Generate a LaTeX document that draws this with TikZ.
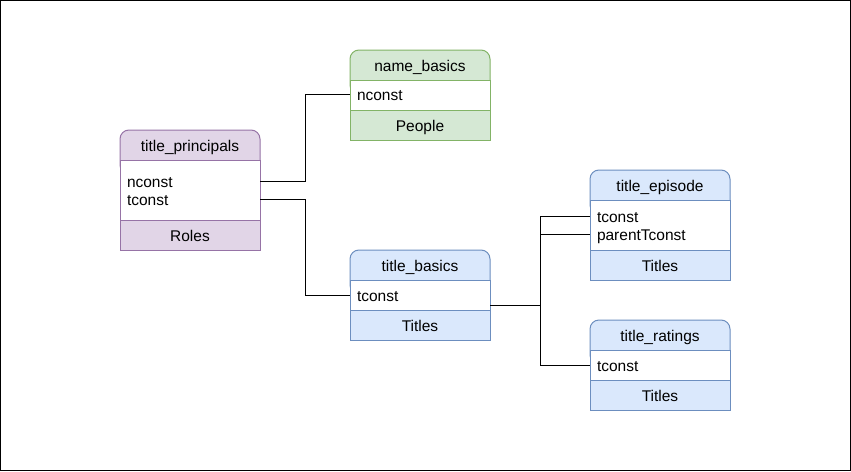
\documentclass[tikz,border=0pt]{standalone}
\usepackage{fontspec}
\setmainfont{Liberation Sans}
\usetikzlibrary{positioning,backgrounds}

\definecolor{purpleFill}{HTML}{E1D5E7}
\definecolor{purpleLine}{HTML}{9673A6}
\definecolor{greenFill}{HTML}{D5E8D4}
\definecolor{greenLine}{HTML}{82B366}
\definecolor{blueFill}{HTML}{DAE8FC}
\definecolor{blueLine}{HTML}{6C8EBF}

\begin{document}
\begin{tikzpicture}[x=1pt,y=-1pt,node distance=0pt,
  every node/.style={font=\fontsize{15.5}{18}\selectfont, inner sep=0pt, outer sep=0pt},
  head/.style={minimum width=140pt, minimum height=30pt, text height=13.5pt, text depth=0pt},
  body/.style={draw=#1Line, fill=white, line width=1pt, minimum width=140pt},
  foot/.style={draw=#1Line, fill=#1Fill, line width=1pt, minimum width=140pt, minimum height=30pt,
    text height=13.5pt, text depth=0pt},
  field/.style={anchor=west, text height=13pt, text depth=1pt},
  link/.style={draw=black, line width=1pt}]
\useasboundingbox (0,0) rectangle (851,471);
\draw[line width=1pt] (0.5,0.5) rectangle (850.5,470.5);

% title_principals
\node[head] (tpH) at (190,145) {title\_principals};
\node[body=purple, minimum height=60pt, below=of tpH] (tpB) {};
\node[foot=purple, below=of tpB] (tpF) {Roles};
\node[field] (tpN) at ([xshift=7pt,yshift=9pt]tpB.west) {nconst};
\node[field] (tpT) at ([xshift=7pt,yshift=-9pt]tpB.west) {tconst};

% name_basics
\node[head] (nbH) at (420,65) {name\_basics};
\node[body=green, minimum height=30pt, below=of nbH] (nbB) {};
\node[foot=green, below=of nbB] (nbF) {People};
\node[field] (nbN) at ([xshift=7pt,yshift=1pt]nbB.west) {nconst};

% title_basics
\node[head] (tbH) at (420,265) {title\_basics};
\node[body=blue, minimum height=30pt, below=of tbH] (tbB) {};
\node[foot=blue, below=of tbB] (tbF) {Titles};
\node[field] (tbT) at ([xshift=7pt]tbB.west) {tconst};

% title_episode
\node[head] (teH) at (660,185) {title\_episode};
\node[body=blue, minimum height=50pt, below=of teH] (teB) {};
\node[foot=blue, below=of teB] (teF) {Titles};
\node[field] (teT) at ([xshift=7pt,yshift=9pt]teB.west) {tconst};
\node[field] (teP) at ([xshift=7pt,yshift=-9pt]teB.west) {parentTconst};

% title_ratings
\node[head] (trH) at (660,335) {title\_ratings};
\node[body=blue, minimum height=30pt, below=of trH] (trB) {};
\node[foot=blue, below=of trB] (trF) {Titles};
\node[field] (trT) at ([xshift=7pt]trB.west) {tconst};

% headers, rounded on top (lower part hidden by the body)
\begin{scope}[on background layer]
\foreach \t/\c in {tpH/purple, nbH/green, tbH/blue, teH/blue, trH/blue}
  \draw[draw=\c Line, fill=\c Fill, line width=1pt, rounded corners=9pt]
    (\t.north west) rectangle ([yshift=-14pt]\t.south east);
\end{scope}

% links
\draw[link] (tpN -| tpB.east) -- ++(45,0) |- (nbN -| nbB.west);
\draw[link] (tpT -| tpB.east) -- ++(45,0) |- (tbT -| tbB.west);
\coordinate (tbOut) at ([yshift=-10pt]tbB.east);
\draw[link] (tbOut) -- ++(50,0) coordinate (hub) |- (teT -| teB.west);
\draw[link] (hub) |- (teP -| teB.west);
\draw[link] (hub) |- (trT -| trB.west);

\end{tikzpicture}
\end{document}
